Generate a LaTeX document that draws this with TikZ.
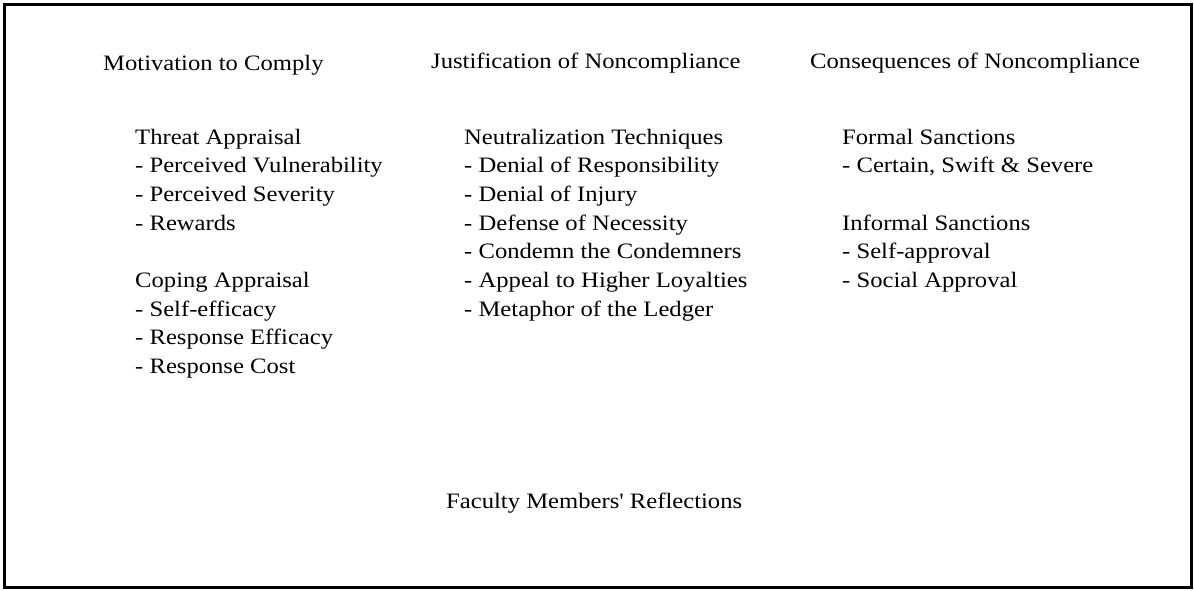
\documentclass[tikz,border=0pt]{standalone}
\usepackage{fontspec}
\setmainfont{Liberation Serif}[FakeStretch=1.12,Ligatures=TeXOff]
\begin{document}
\begin{tikzpicture}[x=1pt,y=-1pt,
  txt/.style={inner sep=0pt,anchor=base west,
    font=\fontsize{22}{28.7}\selectfont}]
\useasboundingbox (0,0) rectangle (1194,590);
\draw[line width=3pt] (4.5,4.5) rectangle (1191.5,587.5);
% column headings
\node[txt] (hmot) at (103,70.7) {Motivation to Comply};
\node[txt] (hjus) at (431,68.7) {Justification of Noncompliance};
\node[txt] (hcon) at (810,68.7) {Consequences of Noncompliance};
% motivation column
\node[txt] (m1) at (135,144.0) {Threat Appraisal};
\node[txt] (m2) at (135,172.7) {- Perceived Vulnerability};
\node[txt] (m3) at (135,201.4) {- Perceived Severity};
\node[txt] (m4) at (135,230.1) {- Rewards};
\node[txt] (m5) at (135,287.5) {Coping Appraisal};
\node[txt] (m6) at (135,316.2) {- Self-efficacy};
\node[txt] (m7) at (135,344.9) {- Response Efficacy};
\node[txt] (m8) at (135,373.6) {- Response Cost};
% justification column
\node[txt] (j1) at (464,144.0) {Neutralization Techniques};
\node[txt] (j2) at (464,172.7) {- Denial of Responsibility};
\node[txt] (j3) at (464,201.4) {- Denial of Injury};
\node[txt] (j4) at (464,230.1) {- Defense of Necessity};
\node[txt] (j5) at (464,258.8) {- Condemn the Condemners};
\node[txt] (j6) at (464,287.5) {- Appeal to Higher Loyalties};
\node[txt] (j7) at (464,316.2) {- Metaphor of the Ledger};
% consequences column
\node[txt] (c1) at (842,144.0) {Formal Sanctions};
\node[txt] (c2) at (842,172.7) {- Certain, Swift \& Severe};
\node[txt] (c3) at (842,230.1) {Informal Sanctions};
\node[txt] (c4) at (842,258.8) {- Self-approval};
\node[txt] (c5) at (842,287.5) {- Social Approval};
% bottom caption
\node[txt] (fac) at (446,508) {Faculty Members' Reflections};
\end{tikzpicture}
\end{document}
